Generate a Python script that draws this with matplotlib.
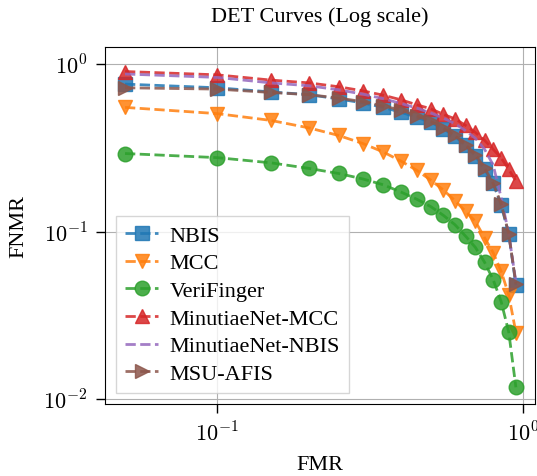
import matplotlib
matplotlib.use("Agg")
import matplotlib.pyplot as plt
import matplotlib.ticker as mticker
import numpy as np

plt.rcParams["font.family"] = "serif"
plt.rcParams["font.serif"] = ["Liberation Serif", "DejaVu Serif"]
plt.rcParams["mathtext.fontset"] = "cm"
plt.rcParams["font.size"] = 16

# FMR thresholds (x axis)
fmr = [0.05, 0.10, 0.15, 0.20, 0.25, 0.30, 0.35, 0.40, 0.45, 0.50,
       0.55, 0.60, 0.65, 0.70, 0.75, 0.80, 0.85, 0.90, 0.95]

# FNMR per method
nbis = [0.757, 0.72, 0.68, 0.655, 0.617, 0.585, 0.55, 0.514, 0.48, 0.449,
        0.41, 0.37, 0.326, 0.282, 0.235, 0.194, 0.144, 0.097, 0.048]
mcc = [0.55, 0.505, 0.46, 0.415, 0.374, 0.335, 0.298, 0.263, 0.232, 0.203,
       0.177, 0.153, 0.132, 0.115, 0.092, 0.075, 0.058, 0.042, 0.025]
verifinger = [0.292, 0.276, 0.257, 0.238, 0.222, 0.206, 0.19, 0.172, 0.156, 0.141,
              0.125, 0.11, 0.094, 0.0805, 0.0657, 0.0518, 0.0383, 0.0252, 0.0118]
mnet_mcc = [0.90, 0.86, 0.80, 0.77, 0.73, 0.69, 0.65, 0.61, 0.57, 0.54,
            0.50, 0.47, 0.43, 0.39, 0.35, 0.31, 0.275, 0.235, 0.20]
mnet_nbis = [0.87, 0.83, 0.77, 0.74, 0.70, 0.66, 0.62, 0.58, 0.545, 0.51,
             0.475, 0.44, 0.40, 0.36, 0.31, 0.25, 0.16, 0.097, 0.05]
msu_afis = [0.72, 0.707, 0.675, 0.655, 0.625, 0.595, 0.56, 0.53, 0.49, 0.455,
            0.415, 0.374, 0.33, 0.288, 0.24, 0.194, 0.147, 0.097, 0.049]

series = [
    ("NBIS", nbis, "s"),
    ("MCC", mcc, "v"),
    ("VeriFinger", verifinger, "o"),
    ("MinutiaeNet-MCC", mnet_mcc, "^"),
    ("MinutiaeNet-NBIS", mnet_nbis, None),
    ("MSU-AFIS", msu_afis, ">"),
]

fig = plt.figure(figsize=(5.37, 4.77), dpi=100)
ax = fig.add_axes([105 / 537, 1 - 405 / 477, 430 / 537, 357 / 477])

for label, vals, marker in series:
    ax.plot(fmr, vals, linestyle="--", linewidth=2, marker=marker,
            markersize=10.5, alpha=0.85, label=label)

ax.set_xscale("log")
ax.set_yscale("log")
ax.set_xlim(0.043, 1.097)
ax.set_ylim(0.00938, 1.26)

# tick labels as 10^n in Computer Modern
pow_fmt = mticker.FuncFormatter(lambda v, pos: r"$10^{%d}$" % round(np.log10(v)))
ax.xaxis.set_major_locator(mticker.FixedLocator([0.1, 1.0]))
ax.yaxis.set_major_locator(mticker.FixedLocator([0.01, 0.1, 1.0]))
ax.xaxis.set_major_formatter(pow_fmt)
ax.yaxis.set_major_formatter(pow_fmt)
ax.xaxis.set_minor_locator(mticker.NullLocator())
ax.yaxis.set_minor_locator(mticker.NullLocator())
ax.tick_params(which="major", length=6.5, width=1, pad=6, labelsize=16)
ax.grid(True, which="major", color="#b0b0b0", linewidth=0.8)

ax.set_title("DET Curves (Log scale)", fontsize=16, pad=18.5)
ax.set_xlabel("FMR")
ax.set_ylabel("FNMR")
ax.xaxis.set_label_coords(0.5, -0.17)
ax.xaxis.label.set_va("center")
ax.yaxis.set_label_coords(-0.2, 0.5)
ax.yaxis.label.set_va("center")

ax.legend(loc="lower left", fancybox=False, edgecolor="0.8",
          handlelength=1.5, handletextpad=0.5, labelspacing=0.32, borderpad=0.4)

fig.savefig("out.png", dpi=100)
